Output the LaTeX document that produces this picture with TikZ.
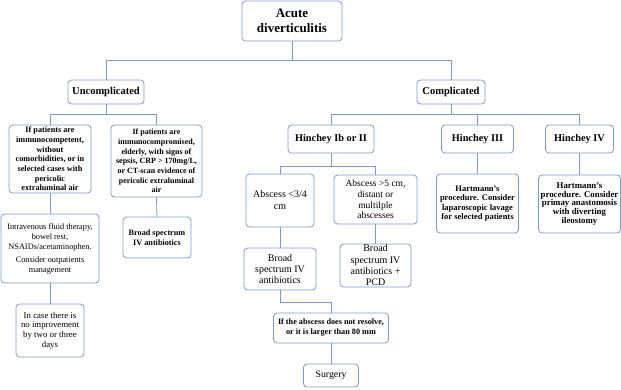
\documentclass[tikz,border=0pt]{standalone}
\usepackage{fontspec}
\setmainfont{Liberation Serif}
\usetikzlibrary{calc}
\definecolor{bblue}{HTML}{7B9BD1}
\newcommand\myfs[2]{\fontsize{#1}{#2}\selectfont}
\begin{document}
\begin{tikzpicture}[x=1pt,y=-1pt,
  box/.style={draw=bblue, line width=0.8pt, rounded corners=3.5pt, fill=white, align=center, inner sep=1pt},
  conn/.style={draw=bblue, line width=0.8pt}]
\useasboundingbox (0,0) rectangle (621,389);
% levels
\coordinate (y1) at (0,60);
\coordinate (y2) at (0,114);
\coordinate (y3) at (0,166);
\coordinate (y4) at (0,302);
% nodes
\node[box, minimum width=100, minimum height=40, font=\myfs{13}{15}\bfseries] (acute) at (292,21) {Acute\\diverticulitis};
\node[box, minimum width=76, minimum height=24, font=\myfs{10.5}{12}\bfseries] (uncomp) at (106,92) {Uncomplicated};
\node[box, minimum width=68, minimum height=24, font=\myfs{10.5}{12}\bfseries] (comp) at (451,92) {Complicated};
\node[box, minimum width=82, minimum height=68, inner sep=0pt, font=\myfs{8.2}{9.7}\bfseries] (u1) at (50,159) {If patients are\\immunocompetent,\\without\\comorbidities, or in\\selected cases with\\pericolic\\extraluminal air};
\node[box, minimum width=91, minimum height=72, inner sep=0pt, font=\myfs{8}{9.7}\bfseries] (u2) at (156.5,161) {If patients are\\immunocompromised,\\elderly, with signs of\\sepsis, CRP > 170mg/L,\\or CT-scan evidence of\\pericolic extraluminal\\air};
\node[box, minimum width=98, minimum height=69, font=\myfs{8.3}{10}] (u3) at (50,248.5) {Intravenous fluid therapy,\\bowel rest,\\NSAIDs/acetaminophen.\\[3pt]Consider outpatients\\management};
\node[box, minimum width=68, minimum height=41, font=\myfs{8.2}{10}\bfseries] (u4) at (157,237.5) {Broad spectrum\\IV antibiotics};
\node[box, minimum width=68, minimum height=53, font=\myfs{8.8}{9.7}] (u5) at (50,330.5) {In case there is\\no improvement\\by two or three\\days};
\node[box, minimum width=86, minimum height=28, font=\myfs{10.3}{12}\bfseries] (h1) at (331,139) {Hinchey Ib or II};
\node[box, minimum width=72, minimum height=28, font=\myfs{10.3}{12}\bfseries] (h3) at (477.5,139) {Hinchey III};
\node[box, minimum width=68, minimum height=28, font=\myfs{10.3}{12}\bfseries] (h4) at (579.5,139) {Hinchey IV};
\node[box, minimum width=82, minimum height=59, font=\myfs{8.5}{9.3}\bfseries] (hart1) at (477.5,203.5) {Hartmann's\\procedure. Consider\\laparoscopic lavage\\for selected patients};
\node[box, minimum width=82, minimum height=58, inner sep=0pt, font=\myfs{8.8}{8.9}\bfseries] (hart2) at (579.5,204) {Hartmann's\\procedure. Consider\\primay anastomosis\\with diverting\\ileostomy};
\node[box, minimum width=68, minimum height=53, font=\myfs{10}{12}] (a1) at (280,200.5) {Abscess <3/4\\cm};
\node[box, minimum width=83, minimum height=49, font=\myfs{9.5}{10.8}] (a2) at (375.5,199.5) {Abscess >5 cm,\\distant or\\multilple\\abscesses};
\node[box, minimum width=72, minimum height=42, font=\myfs{10}{11}] (b1) at (280,269) {Broad\\spectrum IV\\antibiotics};
\node[box, minimum width=71, minimum height=43, inner sep=0pt, font=\myfs{10}{11.3}] (b2) at (375.5,265.5) {Broad\\spectrum IV\\antibiotics +\\PCD};
\node[box, minimum width=115, minimum height=30, font=\myfs{8.2}{10}\bfseries] (res) at (331,328) {If the abscess does not resolve,\\or it is larger than 80 mm};
\node[box, minimum width=55, minimum height=23, font=\myfs{9.8}{11}] (surg) at (331,375.5) {Surgery};
% connectors
\draw[conn] (acute.south) -- (acute.south |- y1) -| (uncomp.north);
\draw[conn] (acute.south |- y1) -| (comp.north);
\draw[conn] (uncomp.south) -- (uncomp.south |- y2) -| (u1.north);
\draw[conn] (uncomp.south |- y2) -| (u2.north);
\draw[conn] (u1.south) -- (u3.north);
\draw[conn] (u2.south) -- (u4.north);
\draw[conn] (u3.south) -- (u5.north);
\draw[conn] (comp.south) -- (comp.south |- y2) -| (h1.north);
\draw[conn] (comp.south |- y2) -| (h3.north);
\draw[conn] (comp.south |- y2) -| (h4.north);
\draw[conn] (h1.south) -- (h1.south |- y3) -| (a1.north);
\draw[conn] (h1.south |- y3) -| (a2.north);
\draw[conn] (a1.south) -- (b1.north);
\draw[conn] (a2.south) -- (b2.north);
\draw[conn] (b1.south) -- (b1.south |- y4) -| (res.north);
\draw[conn] (res.south) -- (surg.north);
\draw[conn] (h3.south) -- (hart1.north);
\draw[conn] (h4.south) -- (hart2.north);
\end{tikzpicture}
\end{document}
